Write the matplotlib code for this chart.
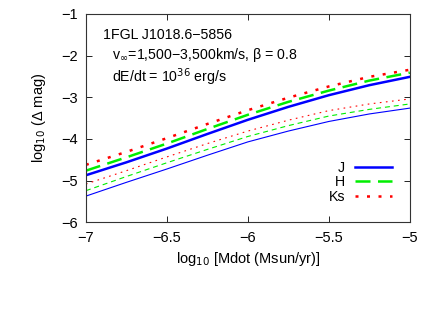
import matplotlib
matplotlib.use("Agg")
import matplotlib.pyplot as plt

plt.rcParams['font.family'] = ['Liberation Sans', 'DejaVu Sans']
plt.rcParams['axes.unicode_minus'] = True

mdot = [-7.0, -6.75, -6.5, -6.25, -6.0, -5.75, -5.5, -5.25, -5.0]
J_thick = [-4.87, -4.56, -4.23, -3.88, -3.54, -3.23, -2.95, -2.71, -2.51]
H_thick = [-4.76, -4.44, -4.11, -3.76, -3.42, -3.11, -2.84, -2.60, -2.41]
Ks_thick = [-4.62, -4.31, -3.98, -3.64, -3.31, -3.01, -2.74, -2.51, -2.34]
J_thin = [-5.37, -5.04, -4.72, -4.39, -4.07, -3.81, -3.58, -3.40, -3.26]
H_thin = [-5.24, -4.90, -4.57, -4.25, -3.94, -3.68, -3.45, -3.29, -3.16]
Ks_thin = [-5.08, -4.76, -4.43, -4.11, -3.81, -3.55, -3.32, -3.16, -3.04]

xticks = [-7, -6.5, -6, -5.5, -5]
xticklabels = ['−7', '−6.5', '−6', '−5.5', '−5']
yticks = [-6, -5, -4, -3, -2, -1]
yticklabels = ['−6', '−5', '−4', '−3', '−2', '−1']

blue = '#0000ff'
green = '#00ee00'
red = '#ff0000'

fig = plt.figure(figsize=(4.36, 3.15), dpi=100)
ax = fig.add_axes([0.197, 0.294, 0.743, 0.662])

ax.plot(mdot, J_thin, color=blue, lw=0.8)
ax.plot(mdot, H_thin, color=green, lw=0.8, dashes=(4.5, 3.5))
ax.plot(mdot, Ks_thin, color=red, lw=0.8, dashes=(1.5, 4))
lj, = ax.plot(mdot, J_thick, color=blue, lw=1.8, label='J')
lh, = ax.plot(mdot, H_thick, color=green, lw=1.8, dashes=(6, 3), label='H')
lk, = ax.plot(mdot, Ks_thick, color=red, lw=1.8, dashes=(1.2, 3.4), label='Ks')

ax.set_xlim(-7, -5)
ax.set_ylim(-6, -1)
ax.set_xticks(xticks)
ax.set_xticklabels(xticklabels)
ax.set_yticks(yticks)
ax.set_yticklabels(yticklabels)
ax.tick_params(direction='in', top=True, right=True, labelsize=10.5, length=4, width=0.6, pad=6)
for s in ax.spines.values():
    s.set_linewidth(0.8)
    s.set_color('#333333')

ax.set_xlabel('log$_{10}$ [Mdot (Msun/yr)]', fontsize=10.5, labelpad=4)
ax.set_ylabel('log$_{10}$ (Δ mag)', fontsize=10.5, labelpad=9)

ax.text(0.052, 0.90, '1FGL J1018.6−5856', transform=ax.transAxes, fontsize=10.2, va='center')
ax.text(0.080, 0.805, 'v$_{\\infty}$=1,500−3,500km/s, β = 0.8', transform=ax.transAxes, fontsize=10.2, va='center')
ax.text(0.080, 0.695, 'dE/dt = 10$^{36}$ erg/s', transform=ax.transAxes, fontsize=10.2, va='center')

leg = ax.legend(handles=[lj, lh, lk], loc='upper right', bbox_to_anchor=(0.944, 0.296),
                frameon=False, markerfirst=False, fontsize=10.2, handlelength=2.6,
                labelspacing=0.05, handletextpad=0.7, borderpad=0.0, borderaxespad=0.0)
for t in leg.get_texts():
    t.set_ha('right')

fig.savefig('out.png', dpi=100)
